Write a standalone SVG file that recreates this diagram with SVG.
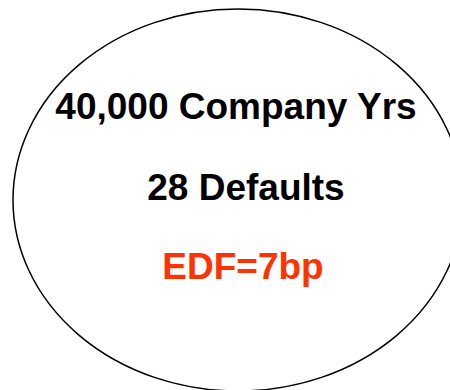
<svg xmlns="http://www.w3.org/2000/svg" width="450" height="390" viewBox="0 0 450 390">
<style>
.t{font-family:"Liberation Sans",Arial,sans-serif;font-weight:bold;font-size:37px;text-anchor:middle}
.k{fill:#000}
.r{fill:#FF3300}
</style>
<rect width="450" height="390" fill="#fff"/>
<g id="ellipse-node">
<ellipse cx="238" cy="200" rx="225" ry="191" fill="none" stroke="#000" stroke-width="1.5"/>
<text class="t k" x="236" y="119">40,000 Company Yrs</text>
<text class="t k" x="246" y="200">28 Defaults</text>
<text class="t r" x="243" y="279">EDF=7bp</text>
</g>
<g id="connectors"/>
</svg>
